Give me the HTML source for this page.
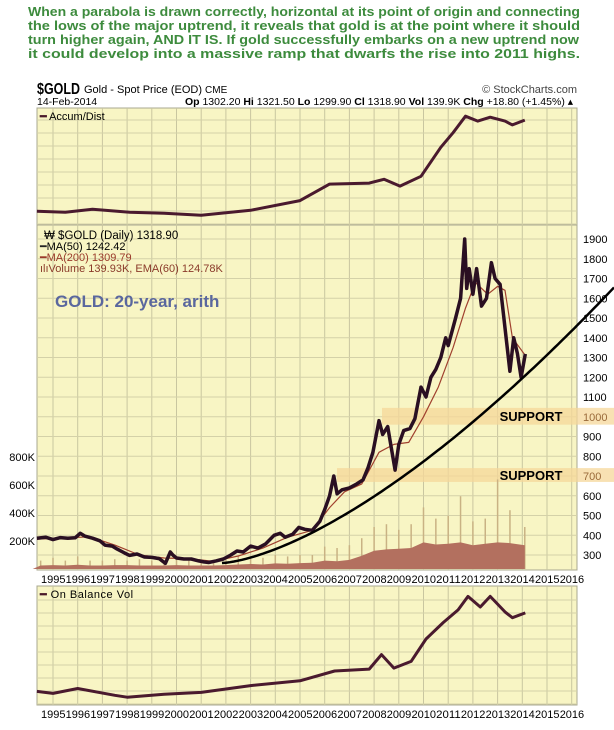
<!DOCTYPE html>
<html><head><meta charset="utf-8"><style>
body{margin:0;background:#fff;width:614px;height:730px;overflow:hidden}
svg{display:block;font-family:"Liberation Sans",sans-serif}
</style></head><body>
<svg id="c" width="614" height="730">
<g fill="#3d8b3d" font-weight="bold" font-size="12.5">
<text x="28" y="16" textLength="552" lengthAdjust="spacingAndGlyphs">When a parabola is drawn correctly, horizontal at its point of origin and connecting</text>
<text x="28" y="30" textLength="552" lengthAdjust="spacingAndGlyphs">the lows of the major uptrend, it reveals that gold is at the point where it should</text>
<text x="28" y="44" textLength="551" lengthAdjust="spacingAndGlyphs">turn higher again, AND IT IS. If gold successfully embarks on a new uptrend now</text>
<text x="28" y="58" textLength="552" lengthAdjust="spacingAndGlyphs">it could develop into a massive ramp that dwarfs the rise into 2011 highs.</text>
</g>
<g>
<text x="37" y="94" font-size="16" font-weight="bold" textLength="43" lengthAdjust="spacingAndGlyphs">$GOLD</text>
<text x="84" y="93" font-size="11">Gold - Spot Price (EOD) <tspan font-size="10">CME</tspan></text>
<text x="577" y="93" font-size="11" text-anchor="end" fill="#444">© StockCharts.com</text>
<text x="37" y="105" font-size="10.5">14-Feb-2014</text>
<text x="573" y="105" font-size="10.5" text-anchor="end"><tspan font-weight="bold">Op</tspan> 1302.20 <tspan font-weight="bold">Hi</tspan> 1321.50 <tspan font-weight="bold">Lo</tspan> 1299.90 <tspan font-weight="bold">Cl</tspan> 1318.90 <tspan font-weight="bold">Vol</tspan> 139.9K <tspan font-weight="bold">Chg</tspan> +18.80 (+1.45%) ▴</text>
</g>
<rect x="37" y="108" width="540" height="117" fill="#f8f5c4" stroke="#a8a890"/>
<rect x="37" y="225" width="540" height="345" fill="#f8f5c4" stroke="#a8a890"/>
<rect x="37" y="586" width="540" height="119" fill="#f8f5c4" stroke="#a8a890"/>
<g id="grid"></g>
<g id="bands"></g>
<g id="vol"></g>
<g id="lines"></g>
<g id="labels" font-size="11"></g>
<g font-size="11">
<text x="44" y="239" font-size="11.5">₩ $GOLD (Daily) 1318.90</text>
<text x="40" y="250"><tspan fill="#222">━</tspan>MA(50) 1242.42</text>
<text x="40" y="261" fill="#9a3a2a">━MA(200) 1309.79</text>
<text x="40" y="272" fill="#8a3a2a">ılıVolume 139.93K, EMA(60) 124.78K</text>
<text x="55" y="307" font-size="17" font-weight="bold" fill="#5a679e">GOLD: 20-year, arith</text>
</g>
<text x="40" y="120" font-size="11"><tspan fill="#4a1a2a" font-weight="bold">━</tspan> Accum/Dist</text>
<text x="40" y="598" font-size="11" letter-spacing="0.5"><tspan fill="#4a1a2a" font-weight="bold">━</tspan> On Balance Vol</text>
</svg>
<script>
const priceYears=[1994.35,1994.7,1995,1995.3,1995.6,1995.9,1996.1,1996.3,1996.6,1996.9,1997.1,1997.4,1997.6,1997.9,1998.1,1998.4,1998.7,1999,1999.3,1999.55,1999.75,1999.85,2000,2000.3,2000.6,2000.9,2001.1,2001.3,2001.6,2001.9,2002.2,2002.45,2002.7,2003,2003.3,2003.6,2003.95,2004.2,2004.4,2004.7,2004.95,2005.2,2005.5,2005.8,2006.0,2006.2,2006.37,2006.5,2006.7,2007.0,2007.3,2007.55,2007.75,2007.95,2008.2,2008.35,2008.55,2008.7,2008.85,2009.0,2009.2,2009.45,2009.65,2009.9,2010.1,2010.3,2010.5,2010.7,2010.9,2011.0,2011.3,2011.5,2011.67,2011.75,2011.85,2012.0,2012.15,2012.35,2012.55,2012.75,2012.9,2013.1,2013.3,2013.5,2013.65,2013.8,2013.95,2014.12];
const priceValues=[385,390,378,388,385,387,410,395,385,372,350,345,330,310,298,305,290,288,282,258,315,300,285,280,280,270,265,262,270,280,300,320,315,345,335,355,400,410,390,405,440,430,425,470,530,600,700,610,630,640,660,680,740,820,980,910,950,840,730,860,930,940,990,1150,1100,1200,1240,1300,1400,1360,1500,1600,1900,1650,1750,1620,1750,1560,1600,1780,1700,1670,1450,1230,1400,1320,1200,1318];
const maYears=[1994.35,1996.5,1997.5,1998.5,1999.5,2000.5,2001.5,2002.5,2003.5,2004.5,2005.5,2006.2,2006.8,2007.5,2008.2,2008.8,2009.4,2010,2010.6,2011.2,2011.7,2012.1,2012.6,2013.0,2013.3,2013.6,2014.12];
const ma200Values=[380,392,350,300,285,282,268,295,335,390,425,540,620,660,820,860,870,1000,1150,1350,1550,1680,1620,1660,1640,1400,1310];
const volYears=[1994.5,1995,1995.5,1996,1996.5,1997,1997.5,1998,1998.5,1999,1999.5,2000,2000.5,2001,2001.5,2002,2002.5,2003,2003.5,2004,2004.5,2005,2005.5,2006,2006.5,2007,2007.5,2008,2008.5,2009,2009.5,2010,2010.5,2011,2011.5,2012,2012.5,2013,2013.5,2014.1];
const volValues=[25,28,25,30,25,25,28,28,25,25,25,28,25,25,25,28,32,36,32,40,38,42,45,60,55,65,95,130,140,145,150,190,175,180,190,170,180,190,185,170];
const volSpikes=[60,80,60,90,60,60,70,60,70,60,60,70,60,50,60,70,90,90,80,100,90,100,100,160,150,170,220,300,320,280,320,440,360,380,520,340,360,640,420,300];
const adYears=[1994.35,1995.5,1996.6,1998.1,1999.5,2001,2003,2005,2006.2,2007.8,2008.4,2009.05,2009.9,2010.7,2011.2,2011.7,2012.2,2012.7,2013.3,2013.6,2014.1];
const adValues=[9,8,11,8,7,5,10,20,37,38,42,35,45,75,90,107,102,106,102,98,103];
const obvYears=[1994.35,1995,1996,1997.5,1998,1999.5,2001,2003,2005,2006.4,2007.8,2008.3,2008.8,2009.5,2010.1,2010.8,2011.4,2011.8,2012.3,2012.7,2013.3,2013.6,2014.12];
const obvValues=[14,12,17,10,8,11,13,20,25,35,37,52,38,45,68,85,98,112,101,112,96,90,95];
const priceTicks=[300,400,500,600,700,800,900,1000,1100,1200,1300,1400,1500,1600,1700,1800,1900];
const volTicks=[200,400,600,800];
const yearTicks=[1995,1996,1997,1998,1999,2000,2001,2002,2003,2004,2005,2006,2007,2008,2009,2010,2011,2012,2013,2014,2015,2016];

const NS='http://www.w3.org/2000/svg';
function mk(tag,attrs,parent,text){const e=document.createElementNS(NS,tag);for(const k in attrs)e.setAttribute(k,attrs[k]);if(text!==undefined)e.textContent=text;parent.appendChild(e);return e;}
const X=yr=>53+(yr-1995)*24.7;
const YP=p=>555-(p-300)*0.1975;
const YV=v=>569-v*0.14;
const YAD=v=>220-v*0.97;
const YOB=v=>705-v*0.97;
const grid=document.getElementById('grid'),bands=document.getElementById('bands'),vol=document.getElementById('vol'),lines=document.getElementById('lines'),labels=document.getElementById('labels');

yearTicks.forEach(y=>{const x=X(y);if(x>577)return;
 [[108,225],[225,570],[586,705]].forEach(r=>{const l=mk('line',{x1:x,x2:x,y1:r[0],y2:r[1],stroke:'#c9c6a0','stroke-width':1},grid);
 
 });});
for(let y=120;y<225;y+=13){const l=mk('line',{x1:37,x2:577,y1:y,y2:y,stroke:'#d4d1a8'},grid);}
for(let y=600;y<705;y+=13){const l=mk('line',{x1:37,x2:577,y1:y,y2:y,stroke:'#d4d1a8'},grid);}
priceTicks.forEach(p=>{const y=YP(p);if(y>225){const l=mk('line',{x1:37,x2:577,y1:y,y2:y,stroke:'#d4d1a8'},grid);}});

[[960,1045,382],[670,740,337]].forEach(b=>{const r=mk('rect',{x:b[2],y:YP(b[1]),width:614-b[2],height:YP(b[0])-YP(b[1]),fill:'#f6d79a','fill-opacity':0.75},bands);
 
 });
[[1000,'SUPPORT'],[700,'SUPPORT']].forEach(s=>{const t=mk('text',{x:531,y:YP(s[0])+4,'text-anchor':'middle','font-size':13,'font-weight':'bold'},bands,s[1]);
 
 });

// volume spikes as thin lines
volYears.forEach((y,i)=>{const x=X(y);
 const s=mk('line',{x1:x,x2:x,y1:YV(volSpikes[i]),y2:569,stroke:'#c9b284','stroke-width':1.5},vol);
 
 });
// volume body as filled area
{let pts=[X(volYears[0])-8+',569'];volYears.forEach((y,i)=>{pts.push(X(y).toFixed(1)+','+YV(volValues[i]).toFixed(1));});
 pts.push(X(volYears[volYears.length-1]).toFixed(1)+',569');
 const a=mk('polygon',{points:pts.join(' '),fill:'#b3705f'},vol);
 
 }

function pl(xs,vs,fy,stroke,w,name){const pts=xs.map((y,i)=>X(y).toFixed(1)+','+fy(vs[i]).toFixed(1)).join(' ');
 const e=mk('polyline',{points:pts,fill:'none',stroke:stroke,'stroke-width':w,'stroke-linejoin':'round'},lines);
 
 }
pl(adYears,adValues,YAD,'#4a1a2e',3,'accum-dist-line');
pl(obvYears,obvValues,YOB,'#4a1a2e',3,'obv-line');
pl(maYears,ma200Values,YP,'#a0402e',1.2,'ma200-line');
pl(priceYears,priceValues,YP,'#2a0f22',3.5,'gold-price-line');
let pp=[];for(let x=222;x<=614;x+=4){pp.push(x+','+(563-0.0355*Math.pow(x-222,1.5)).toFixed(1));}
const par=mk('polyline',{points:pp.join(' '),fill:'none',stroke:'#000','stroke-width':2.5},lines);



priceTicks.forEach(p=>{const t=mk('text',{x:583,y:YP(p)+4,fill:(p==1000||p==700)?'#9a6a3a':'#000'},labels,String(p));
 
 });
volTicks.forEach(v=>{const t=mk('text',{x:35,y:YV(v)+4,'text-anchor':'end'},labels,v+'K');
 
 });
[583,718].forEach(yy=>{yearTicks.forEach(y=>{const t=mk('text',{x:X(y)-12,y:yy,textLength:24.5,lengthAdjust:'spacingAndGlyphs'},labels,String(y));
 
 });});
</script>
</body></html>
